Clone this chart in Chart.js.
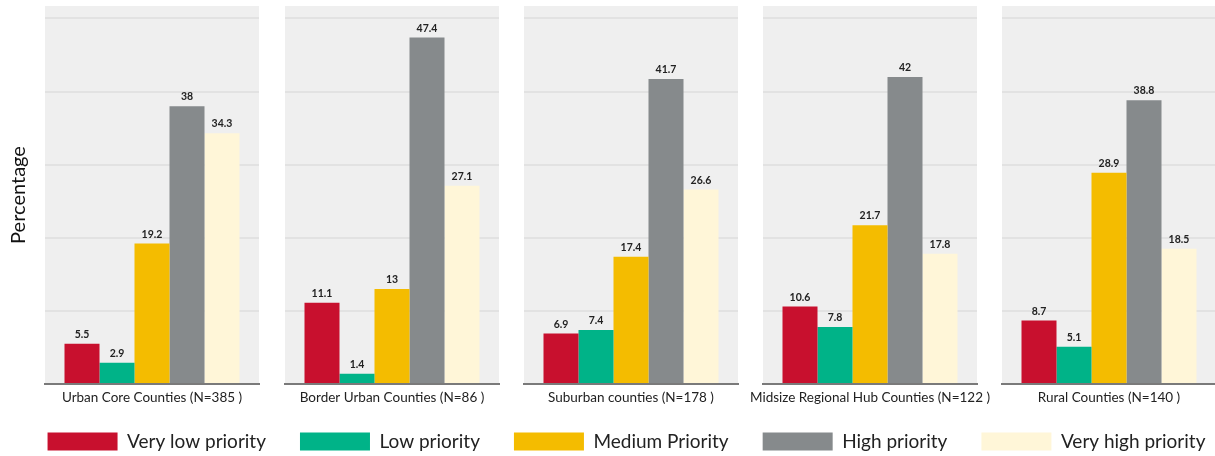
<!DOCTYPE html>
<html>
<head>
<meta charset="utf-8">
<script src="https://cdn.jsdelivr.net/npm/chart.js@4.4.1/dist/chart.umd.min.js"></script>
<style>
  html, body { margin: 0; padding: 0; background: #fff; overflow: hidden; width: 1215px; height: 456px; position: relative; }
  canvas { position: absolute; }
</style>
</head>
<body>
<canvas id="c0"></canvas>
<canvas id="c1"></canvas>
<canvas id="c2"></canvas>
<canvas id="c3"></canvas>
<canvas id="c4"></canvas>
<canvas id="legend"></canvas>
<script>
const counties = ['Urban Core Counties (N=385 )', 'Border Urban Counties (N=86 )', 'Suburban counties (N=178 )', 'Midsize Regional Hub Counties (N=122 )', 'Rural Counties (N=140 )'];
const priorities = ['Very low priority', 'Low priority', 'Medium Priority', 'High priority', 'Very high priority'];
const colors = ['#c8102e', '#00b388', '#f4bc00', '#868a8c', '#fff6d8'];

// one value per county, same order as counties
const veryLow = [5.5, 11.1, 6.9, 10.6, 8.7];
const low = [2.9, 1.4, 7.4, 7.8, 5.1];
const medium = [19.2, 13, 17.4, 21.7, 28.9];
const high = [38, 47.4, 41.7, 42, 38.8];
const veryHigh = [34.3, 27.1, 26.6, 17.8, 18.5];
const series = [veryLow, low, medium, high, veryHigh];

const yTicks = [0, 10, 20, 30, 40, 50];

Chart.defaults.font.family = 'Lato';
Chart.defaults.color = '#222';

const panelLeft = [45, 285, 524, 763, 1002];
const panelWidth = 214;
const side = 13;

const panelBg = {
    id: 'panelBg',
    beforeDraw(chart) {
        const a = chart.chartArea;
        const ctx = chart.ctx;
        ctx.save();
        ctx.fillStyle = '#efefef';
        ctx.fillRect(a.left, a.top, a.right - a.left, a.bottom - a.top);
        ctx.restore();
    }
};

const valueLabels = {
    id: 'valueLabels',
    afterDatasetsDraw(chart) {
        const ctx = chart.ctx;
        ctx.save();
        ctx.font = 'bold 10.5px Lato';
        ctx.fillStyle = '#222';
        ctx.textAlign = 'center';
        ctx.textBaseline = 'bottom';
        chart.data.datasets.forEach(function (ds, i) {
            chart.getDatasetMeta(i).data.forEach(function (bar, j) {
                ctx.fillText(String(ds.data[j]), bar.x, bar.y - 4);
            });
        });
        ctx.restore();
    }
};

counties.forEach(function (county, i) {
    const canvas = document.getElementById('c' + i);
    const first = i === 0;
    const left = first ? 0 : panelLeft[i] - side;
    const width = first ? panelLeft[0] + panelWidth + side : panelWidth + 2 * side;
    canvas.width = width;
    canvas.height = 412;
    canvas.style.left = left + 'px';
    canvas.style.top = '0px';

    new Chart(canvas, {
        type: 'bar',
        data: {
            labels: [county],
            datasets: priorities.map(function (p, k) {
                return {
                    label: p,
                    data: [series[k][i]],
                    backgroundColor: colors[k],
                    borderWidth: 0,
                };
            }),
        },
        options: {
            responsive: false,
            animation: false,
            categoryPercentage: 175 / 214,
            barPercentage: 1,
            layout: { padding: { left: first ? 0 : side, right: side, top: 6, bottom: 0 } },
            plugins: { legend: { display: false }, tooltip: { enabled: false } },
            scales: {
                x: {
                    grid: { display: false, drawTicks: false },
                    border: { display: true, color: '#7a7a7a', width: 2 },
                    ticks: { font: { size: 13.5 }, color: '#222', padding: 6, maxRotation: 0, autoSkip: false },
                    afterFit: function (scale) {
                        scale.height = 28;
                        scale.paddingLeft = 0;
                        scale.paddingRight = 0;
                    },
                },
                y: {
                    min: 0,
                    max: 51.7,
                    afterBuildTicks: function (scale) {
                        scale.ticks = yTicks.map(function (v) { return { value: v }; });
                    },
                    grid: { color: '#e2e2e2', lineWidth: 2, drawTicks: false },
                    border: { display: false },
                    ticks: { display: false },
                    title: {
                        display: first,
                        text: 'Percentage',
                        font: { size: 20 },
                        color: '#111',
                        padding: { top: 7, bottom: 4 },
                    },
                    afterFit: function (scale) {
                        scale.width = first ? panelLeft[0] : 0;
                    },
                },
            },
        },
        plugins: [panelBg, valueLabels],
    });
});

// legend drawn by its own chart, no data shown
const legendCanvas = document.getElementById('legend');
legendCanvas.width = 1255;
legendCanvas.height = 200;
legendCanvas.style.left = '-1px';
legendCanvas.style.top = '398px';

new Chart(legendCanvas, {
    type: 'bar',
    data: {
        labels: [],
        datasets: priorities.map(function (p, k) {
            return { label: p, data: [], backgroundColor: colors[k], borderWidth: 0 };
        }),
    },
    options: {
        responsive: false,
        animation: false,
        scales: { x: { display: false }, y: { display: false } },
        plugins: {
            tooltip: { enabled: false },
            legend: {
                display: true,
                position: 'top',
                labels: {
                    boxWidth: 70,
                    boxHeight: 18,
                    padding: 34,
                    font: { size: 19 },
                    color: '#222',
                },
            },
        },
    },
});
</script>
</body>
</html>
